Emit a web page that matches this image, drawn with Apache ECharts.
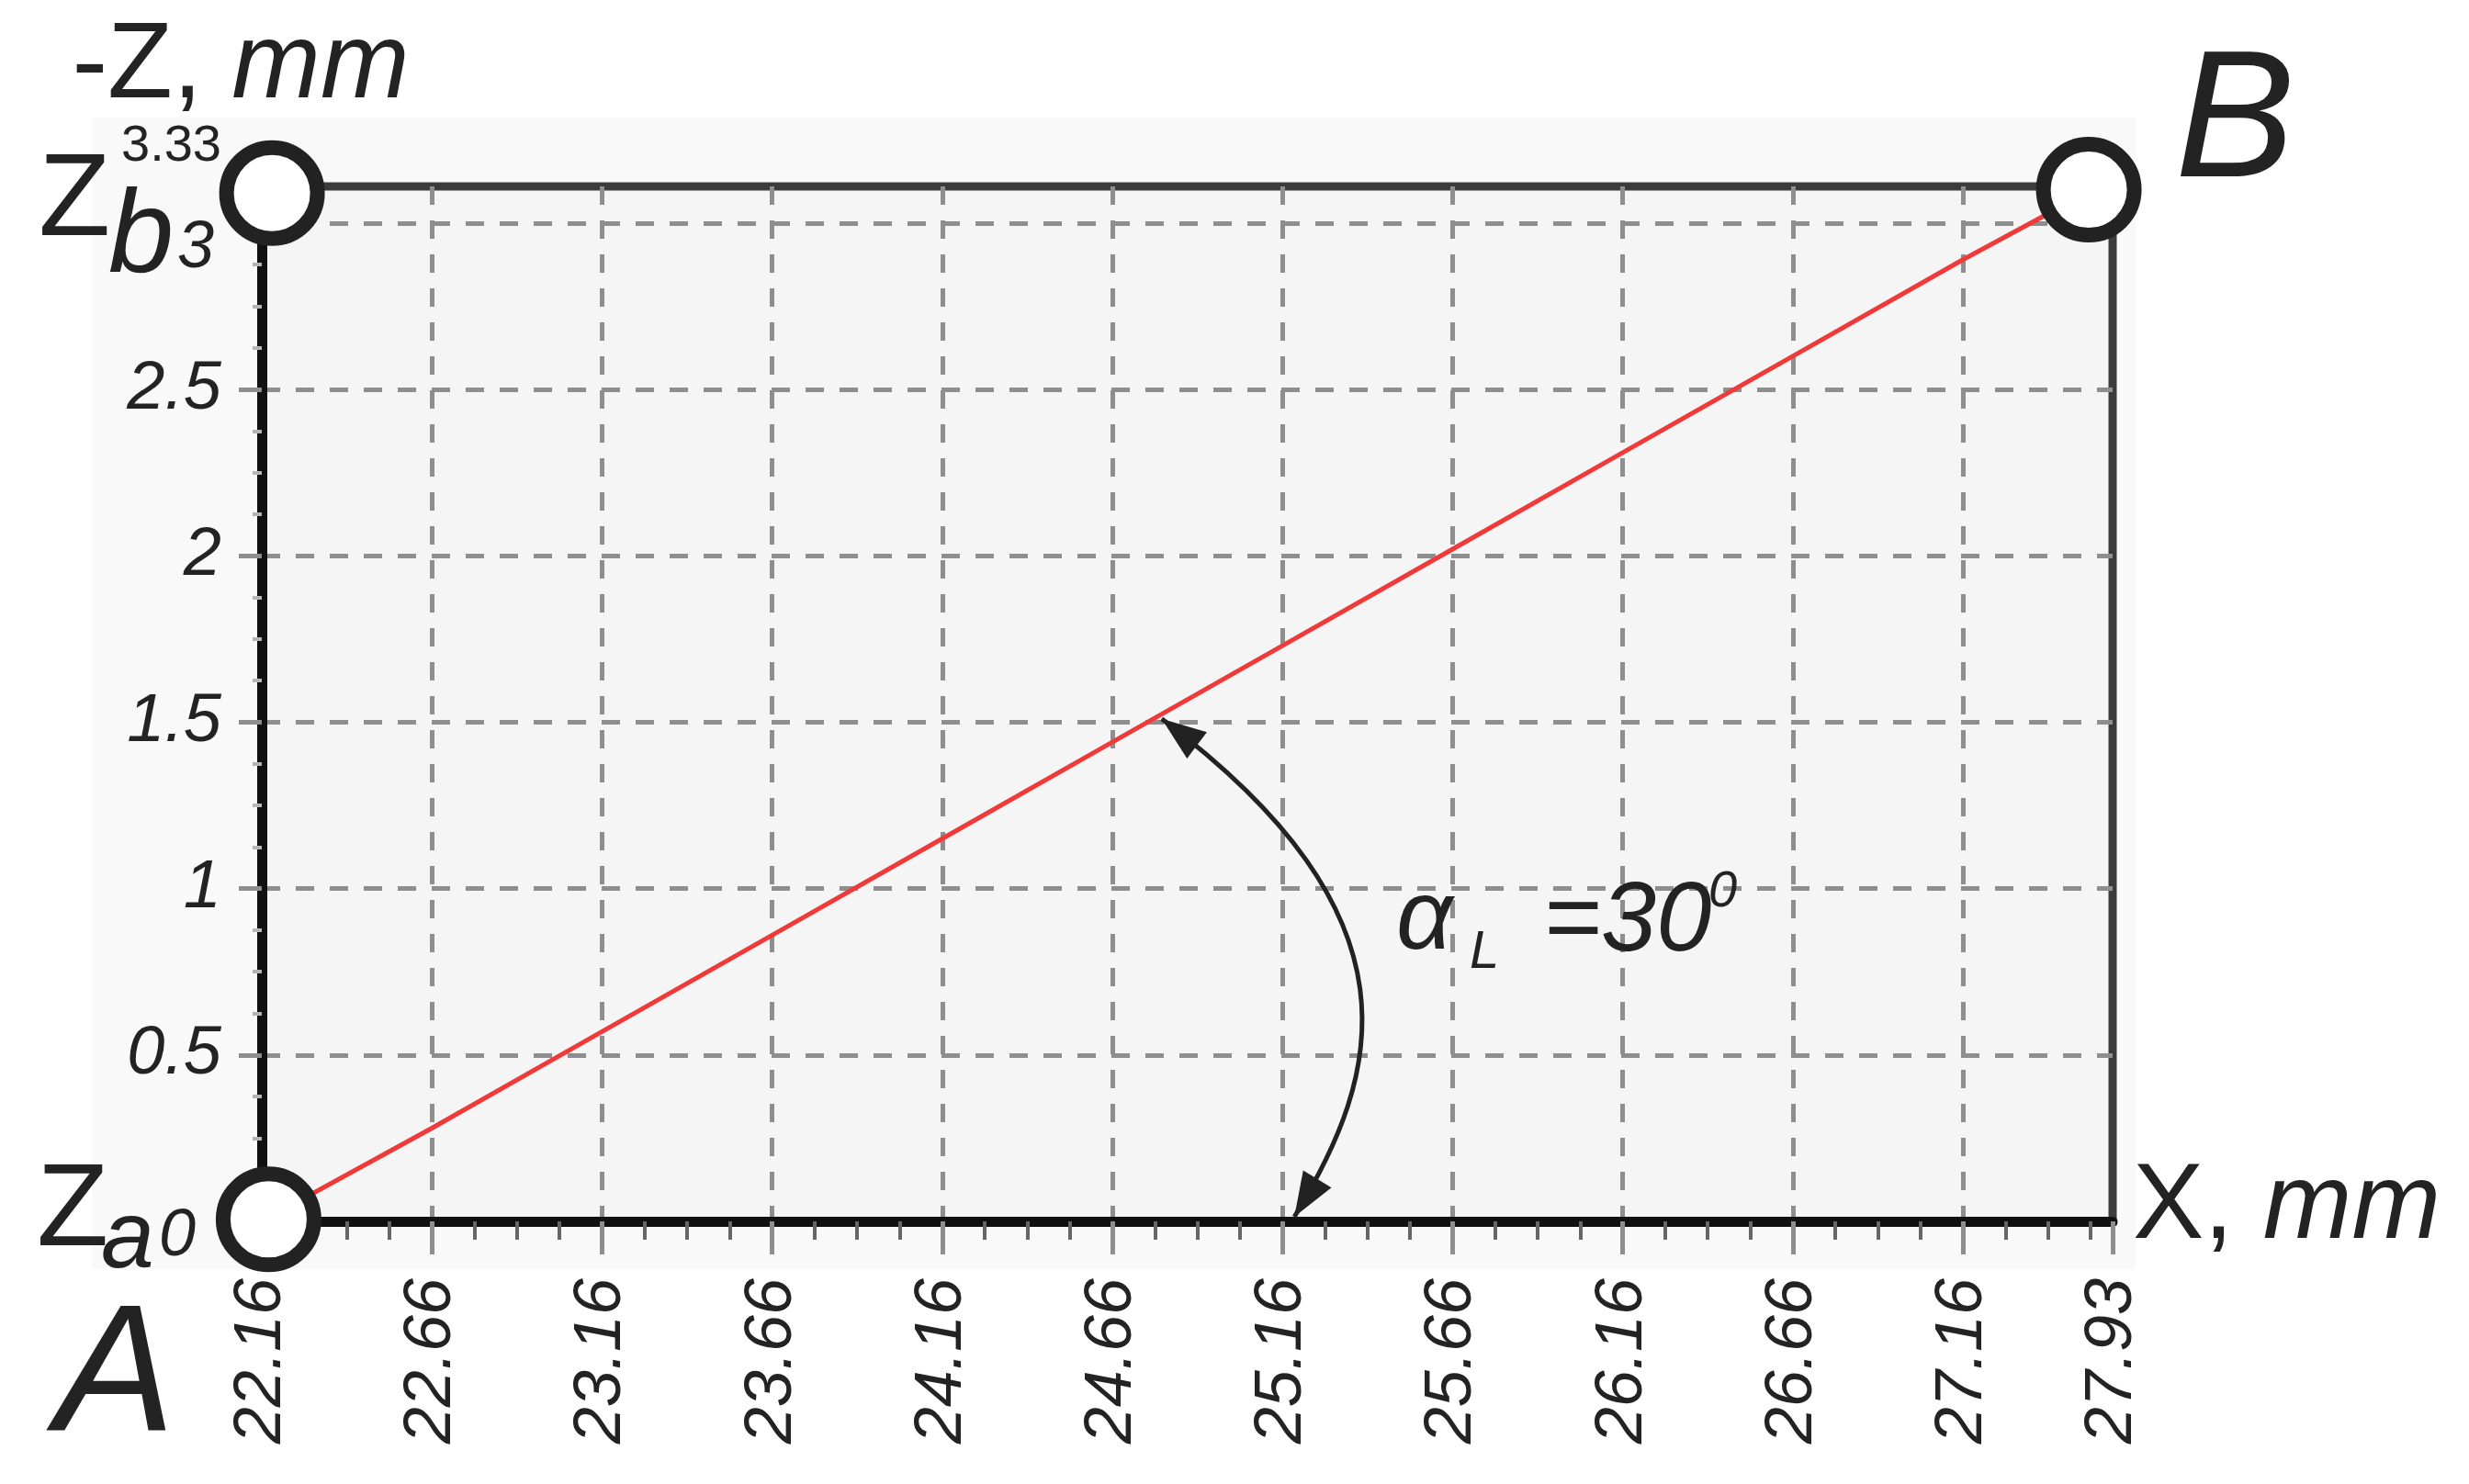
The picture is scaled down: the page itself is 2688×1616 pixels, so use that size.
<!DOCTYPE html>
<html>
<head>
<meta charset="utf-8">
<script src="https://cdn.jsdelivr.net/npm/echarts@6/dist/echarts.min.js"></script>
<style>
html,body{margin:0;padding:0;background:#ffffff;}
#chart{width:2688px;height:1616px;}
</style>
</head>
<body>
<div id="chart"></div>
<script>
const FONT = "'Liberation Sans', Arial, sans-serif";

// ---- axis ranges and ticks ----
const xMin = 22.16, xMax = 27.60, xStep = 0.5;
const zMin = 0, zMax = 3.11, zStep = 0.5;
const xTicks = [22.16, 22.66, 23.16, 23.66, 24.16, 24.66, 25.16, 25.66, 26.16, 26.66, 27.16];
const xTickLabels = ['22.16', '22.66', '23.16', '23.66', '24.16', '24.66', '25.16', '25.66', '26.16', '26.66', '27.16'];
const xEndLabel = '27.93';
const zTicks = [0, 0.5, 1, 1.5, 2, 2.5, 3];
const zTickLabels = ['0', '0.5', '1', '1.5', '2', '2.5', '3'];
const zEndLabel = '3.33';

// ---- red profile line (X, -Z) ----
const lineX = [22.16, 22.66, 23.16, 23.66, 24.16, 24.66, 25.16, 25.66, 26.16, 26.66, 27.16, 27.45];
const lineZ = [0, 0.28, 0.57, 0.86, 1.15, 1.44, 1.73, 2.02, 2.31, 2.60, 2.89, 3.05];

// ---- marked points (circles) ----
const pointNames = ['A', 'Zb', 'B'];
const pointX = [22.18, 22.19, 27.53];
const pointZ = [0.006, 3.09, 3.10];

// ---- angle arrow anchors (data coords) ----
const arrowFrom = [24.805, 1.51];
const arrowCtrl1 = [25.585, 0.912];
const arrowCtrl2 = [25.45, 0.442];
const arrowTo = [25.195, 0.014];

function near(a, b) { return Math.abs(a - b) < 1e-4; }

function fmtX(v) {
  if (near(v, xMax)) return xEndLabel;
  const i = xTicks.findIndex(t => Math.abs(t - v) < 0.01);
  return i >= 0 ? xTickLabels[i] : '';
}
function fmtZ(v) {
  if (near(v, zMax)) return '{top|' + zEndLabel + '}';
  const i = zTicks.findIndex(t => Math.abs(t - v) < 0.01);
  if (i < 0) return '';
  if (i === 0) return '{low|' + zTickLabels[i] + '}';
  if (i === zTicks.length - 1) return '{high|' + zTickLabels[i] + '}';
  return zTickLabels[i];
}

const gridDash = { color: '#8e8e8e', width: 5, type: [20, 17] };
const nameRich = {
  n: { fontFamily: FONT, fontSize: 116, fontStyle: 'normal', color: '#232323' },
  i: { fontFamily: FONT, fontSize: 116, fontStyle: 'italic', color: '#232323' }
};

function txt(text, x, baseline, size, italic) {
  return {
    type: 'text', z: 20, silent: true,
    style: {
      text: text, x: x, y: baseline - 0.34 * size,
      font: (italic ? 'italic ' : '') + size + 'px ' + FONT,
      fill: '#232323', textAlign: 'left', textVerticalAlign: 'middle', verticalAlign: 'middle'
    }
  };
}

const chart = echarts.init(document.getElementById('chart'), null, { renderer: 'canvas' });

const option = {
  backgroundColor: '#ffffff',
  animation: false,
  grid: {
    left: 285, right: 388, top: 203, bottom: 286,
    containLabel: false, outerBoundsMode: 'none',
    show: true, backgroundColor: '#f5f5f5', borderColor: '#3c3c3c', borderWidth: 9
  },
  xAxis: {
    type: 'value', min: xMin, max: xMax, interval: xStep,
    axisLine: { show: true, onZero: false, lineStyle: { color: '#111111', width: 11 } },
    axisTick: { show: true, inside: false, length: 36, lineStyle: { color: '#8e8e8e', width: 5 } },
    minorTick: { show: true, splitNumber: 4, length: 20, lineStyle: { color: '#666666', width: 4 } },
    splitLine: { show: true, showMinLine: false, showMaxLine: false, lineStyle: gridDash },
    axisLabel: {
      rotate: 90, margin: 62, fontSize: 72, fontStyle: 'italic', fontFamily: FONT, color: '#232323',
      padding: [28, 0, 0, 0],
      showMinLabel: true, showMaxLabel: true, hideOverlap: false, formatter: fmtX
    },
    name: '{n|X, }{i|mm}', nameLocation: 'end', nameGap: 22,
    nameTextStyle: { padding: [0, 0, 28, 0], rich: nameRich }
  },
  yAxis: {
    type: 'value', min: zMin, max: zMax, interval: zStep,
    axisLine: { show: true, onZero: false, lineStyle: { color: '#111111', width: 11 } },
    axisTick: { show: true, inside: false, length: 25, lineStyle: { color: '#8e8e8e', width: 5 } },
    minorTick: { show: true, splitNumber: 4, length: 10, lineStyle: { color: '#b5b5b5', width: 4 } },
    splitLine: { show: true, showMinLine: false, showMaxLine: false, lineStyle: gridDash },
    axisLabel: {
      margin: 44, fontSize: 74, fontStyle: 'italic', fontFamily: FONT, color: '#232323',
      showMinLabel: true, showMaxLabel: true, hideOverlap: false, formatter: fmtZ,
      rich: {
        top: { fontFamily: FONT, fontSize: 56, fontStyle: 'normal', color: '#232323', padding: [0, 0, 86, 0] },
        low: { fontFamily: FONT, fontSize: 72, fontStyle: 'italic', color: '#232323', padding: [34, 28, 0, 0] },
        high: { fontFamily: FONT, fontSize: 72, fontStyle: 'italic', color: '#232323', padding: [56, 8, 0, 0] }
      }
    },
    name: '{n|-Z, }{i|mm}', nameLocation: 'end', nameGap: 59,
    nameTextStyle: { padding: [0, 46, 0, 0], rich: nameRich }
  },
  series: [
    {
      name: 'profile', type: 'line', z: 3, clip: false, silent: true,
      showSymbol: false, symbol: 'none',
      data: lineX.map((x, i) => [x, lineZ[i]]),
      lineStyle: { color: '#f03a3a', width: 5 }
    },
    {
      name: 'points', type: 'scatter', z: 6, clip: false, silent: true,
      symbol: 'circle', symbolSize: 99,
      data: pointX.map((x, i) => ({ name: pointNames[i], value: [x, pointZ[i]] })),
      itemStyle: { color: '#ffffff', borderColor: '#222222', borderWidth: 16, opacity: 1 }
    }
  ]
};
chart.setOption(option);

// ---- annotations ----
const toPx = p => chart.convertToPixel({ gridIndex: 0 }, p);
const P0 = toPx(arrowFrom), C1 = toPx(arrowCtrl1), C2 = toPx(arrowCtrl2), P3 = toPx(arrowTo);
function head(tip, toward, L, W) {
  const dx = toward[0] - tip[0], dy = toward[1] - tip[1];
  const len = Math.sqrt(dx * dx + dy * dy) || 1;
  const ux = dx / len, uy = dy / len;
  const bx = tip[0] + ux * L, by = tip[1] + uy * L;
  return [[tip[0], tip[1]], [bx - uy * W, by + ux * W], [bx + uy * W, by - ux * W]];
}

chart.setOption({
  graphic: [
    { type: 'rect', z: -10, silent: true, shape: { x: 100, y: 128, width: 2225, height: 1254 }, style: { fill: '#f9f9f9' } },
    {
      type: 'bezierCurve', z: 10, silent: true,
      shape: { x1: P0[0], y1: P0[1], cpx1: C1[0], cpy1: C1[1], cpx2: C2[0], cpy2: C2[1], x2: P3[0], y2: P3[1] },
      style: { stroke: '#222222', lineWidth: 5, fill: null }
    },
    { type: 'polygon', z: 10, silent: true, shape: { points: head(P0, C1, 48, 18) }, style: { fill: '#222222' } },
    { type: 'polygon', z: 10, silent: true, shape: { points: head(P3, C2, 48, 18) }, style: { fill: '#222222' } },
    txt('\u03B1', 1520, 1040, 108, true),
    txt('L', 1600, 1058, 58, true),
    txt('=30', 1680, 1042, 108, true),
    txt('0', 1860, 990, 56, true),
    txt('Z', 42, 264, 128, false),
    txt('b', 118, 304, 128, true),
    txt('Z', 40, 1364, 128, false),
    txt('a', 110, 1386, 104, true),
    txt('B', 2368, 204, 196, true),
    txt('A', 60, 1570, 196, true)
  ]
});
</script>
</body>
</html>
